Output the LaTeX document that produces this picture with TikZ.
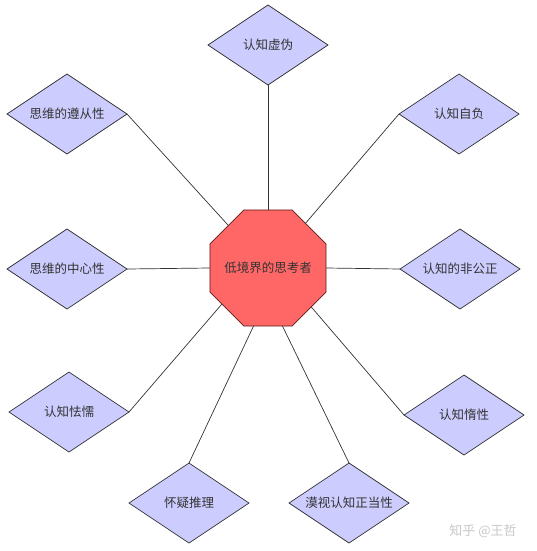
\documentclass[tikz,border=0pt]{standalone}
\usepackage{fontspec}
\newfontfamily\cjk{Noto Sans CJK SC}
\usetikzlibrary{shapes.geometric}
\definecolor{ink}{HTML}{333333}
\definecolor{lav}{HTML}{CCCCFF}
\definecolor{hot}{HTML}{FF6666}
\definecolor{rim}{HTML}{5C1A1A}
\definecolor{wm}{HTML}{C8C8C8}

\begin{document}
\begin{tikzpicture}[x=1pt,y=-1pt,font=\cjk\fontsize{12.5}{15}\selectfont,
  trait/.style={diamond,aspect=1.5,draw=ink,fill=lav,line width=0.7pt,minimum width=120pt,minimum height=80pt,inner sep=0pt,outer sep=0pt,text=ink},
  link/.style={draw=ink,line width=0.7pt}]
\useasboundingbox (0,0) rectangle (536,551);
\node[regular polygon,regular polygon sides=8,draw=rim,fill=hot,line width=0.7pt,minimum size=125.6pt,inner sep=0pt,outer sep=0pt,text=ink] (low) at (268,268) {\makebox[0pt]{低境界的思考者}};
\node[trait] (fake) at (268,45) {认知虚伪};
\node[trait] (conform) at (67,114) {思维的遵从性};
\node[trait] (proud) at (459,114) {认知自负};
\node[trait] (centric) at (67,269) {思维的中心性};
\node[trait] (unjust) at (460,269) {认知的非公正};
\node[trait] (timid) at (69,412) {认知怯懦};
\node[trait] (lazy) at (464,415) {认知惰性};
\node[trait] (doubt) at (189,503) {怀疑推理};
\node[trait] (disdain) at (349,503) {漠视认知正当性};
% spokes to the octagon
\draw[link] (fake.south) -- (low.north);
\draw[link] (conform.east) -- (low.133);
\draw[link] (proud.west) -- (low.50);
\draw[link] (centric.east) -- (low.west);
\draw[link] (unjust.west) -- (low.east);
\draw[link] (timid.east) -- (low.218);
\draw[link] (lazy.west) -- (low.318);
\draw[link] (doubt.north) -- (low.256);
\draw[link] (disdain.north) -- (low.284);
\node[text=wm,font=\cjk\fontsize{13}{15}\selectfont] (zhihu) at (483,531) {知乎 @王哲};
\end{tikzpicture}
\end{document}
